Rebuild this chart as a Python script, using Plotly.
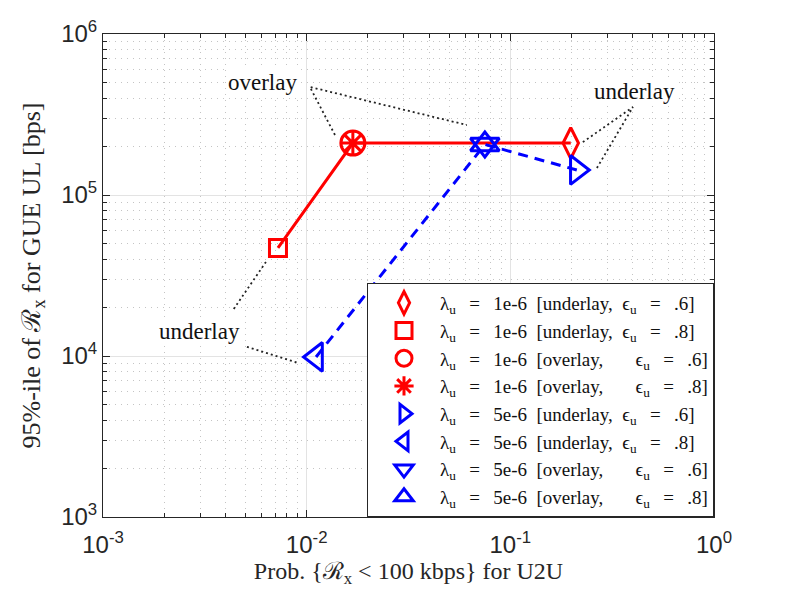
import math
import plotly.graph_objects as go

# ---- data (order: underlay eps=.6, underlay eps=.8, overlay eps=.6, overlay eps=.8)
red_x = [0.198, 0.00723, 0.01686, 0.01686]
red_y = [210000, 46900, 210000, 210000]
blue_x = [0.212, 0.01112, 0.075, 0.075]
blue_y = [143000, 9860, 206000, 206000]
path_order = [1, 2, 0]

EQ = "\u2002\u2009=\u2002\u2009"
SP = "\u2002"
def entry(lam, mode, eps):
    gap = SP if mode == "underlay" else "\u2003\u2002\u2009"
    return ("λ<sub>u</sub>" + EQ + lam + SP + "[" + mode + "," + gap +
            "ϵ<sub>u</sub>" + EQ + eps + "]")

red_names = [entry("1e-6", "underlay", ".6"), entry("1e-6", "underlay", ".8"),
             entry("1e-6", "overlay", ".6"), entry("1e-6", "overlay", ".8")]
blue_names = [entry("5e-6", "underlay", ".6"), entry("5e-6", "underlay", ".8"),
              entry("5e-6", "overlay", ".6"), entry("5e-6", "overlay", ".8")]
red_symbols = ["diamond-tall-open", "square-open", "circle-open", "asterisk-open"]
blue_symbols = ["triangle-right-open", "triangle-left-open", "triangle-down-open", "triangle-up-open"]

x_tickvals = [1e-3, 1e-2, 1e-1, 1]
x_ticktext = ["10<sup>-3</sup>", "10<sup>-2</sup>", "10<sup>-1</sup>", "10<sup>0</sup>"]
y_tickvals = [1e3, 1e4, 1e5, 1e6]
y_ticktext = ["10<sup>3</sup>", "10<sup>4</sup>", "10<sup>5</sup>", "10<sup>6</sup>"]

# annotation labels and dotted leader lines
label_texts = ["overlay", "underlay", "underlay"]
label_x = [0.00605, 0.409, 0.00299]
label_y = [497000, 442000, 14100]
leaders_x = [[0.01377, 0.01037, 0.0612], [0.227, 0.40, 0.266],
             [0.00631, 0.00435], [0.00509, 0.00906]]
leaders_y = [[236000, 469000, 272000], [213000, 352000, 147000],
             [38400, 19300], [11400, 9060]]

RED = "#ff0000"
BLUE = "#0000ff"
SERIF = "Liberation Serif, DejaVu Serif, serif"
SANS = "Liberation Sans, Arial, sans-serif"

fig = go.Figure()

for lx, ly in zip(leaders_x, leaders_y):
    fig.add_trace(go.Scatter(x=lx, y=ly, mode="lines", showlegend=False, hoverinfo="skip",
                             line=dict(color="#222222", width=1.8, dash="2px,3px")))

fig.add_trace(go.Scatter(x=[red_x[i] for i in path_order], y=[red_y[i] for i in path_order],
                         mode="lines", showlegend=False, line=dict(color=RED, width=3)))
fig.add_trace(go.Scatter(x=[blue_x[i] for i in path_order], y=[blue_y[i] for i in path_order],
                         mode="lines", showlegend=False, line=dict(color=BLUE, width=3, dash="10px,7px")))

red_sizes = [22, 17, 24, 20]
blue_sizes = [25, 25, 25, 25]
for i in range(4):
    fig.add_trace(go.Scatter(x=[red_x[i]], y=[red_y[i]], mode="markers", name=red_names[i],
                             marker=dict(symbol=red_symbols[i], size=red_sizes[i], color=RED,
                                         line=dict(color=RED, width=3))))
for i in range(4):
    fig.add_trace(go.Scatter(x=[blue_x[i]], y=[blue_y[i]], mode="markers", name=blue_names[i],
                             marker=dict(symbol=blue_symbols[i], size=blue_sizes[i], color=BLUE,
                                         line=dict(color=BLUE, width=3))))

for t, x, y in zip(label_texts, label_x, label_y):
    fig.add_annotation(x=math.log10(x), y=math.log10(y), text=t, showarrow=False,
                       font=dict(family=SERIF, size=23, color="#111111"),
                       bgcolor="white")

axis_common = dict(
    type="log", showline=True, linecolor="#262626", linewidth=1, mirror="allticks",
    ticks="inside", ticklen=7, tickcolor="#262626", automargin=False,
    showgrid=True, gridcolor="#e3e3e3", gridwidth=1, zeroline=False,
    tickfont=dict(family=SANS, size=24, color="#262626"),
    minor=dict(showgrid=True, gridcolor="#c4c4c4", griddash="1px,5px", ticks="inside",
               ticklen=4, tickcolor="#262626", dtick="D1"),
)

fig.update_xaxes(**axis_common, range=[-3, 0], tickvals=x_tickvals, ticktext=x_ticktext,
                 ticklabelstandoff=6,
                 title=dict(text="Prob. {ℛ<sub>x</sub> < 100 kbps} for U2U",
                            font=dict(family=SERIF, size=24, color="#262626"), standoff=4))
fig.update_yaxes(**axis_common, range=[3, 6], tickvals=y_tickvals, ticktext=y_ticktext,
                 title=dict(text="95%-ile of ℛ<sub>x</sub> for GUE UL [bps]",
                            font=dict(family=SERIF, size=26, color="#262626"), standoff=13))

fig.update_layout(
    width=789, height=594,
    margin=dict(l=95, r=83, t=26, b=85),
    paper_bgcolor="white", plot_bgcolor="white",
    legend=dict(x=1.0, y=0.0, xanchor="right", yanchor="bottom",
                bgcolor="white", bordercolor="#262626", borderwidth=1,
                font=dict(family=SERIF, size=19, color="#111111"),
                itemsizing="trace", itemwidth=62, tracegroupgap=0),
    showlegend=True,
)

fig.write_html("out.html")
